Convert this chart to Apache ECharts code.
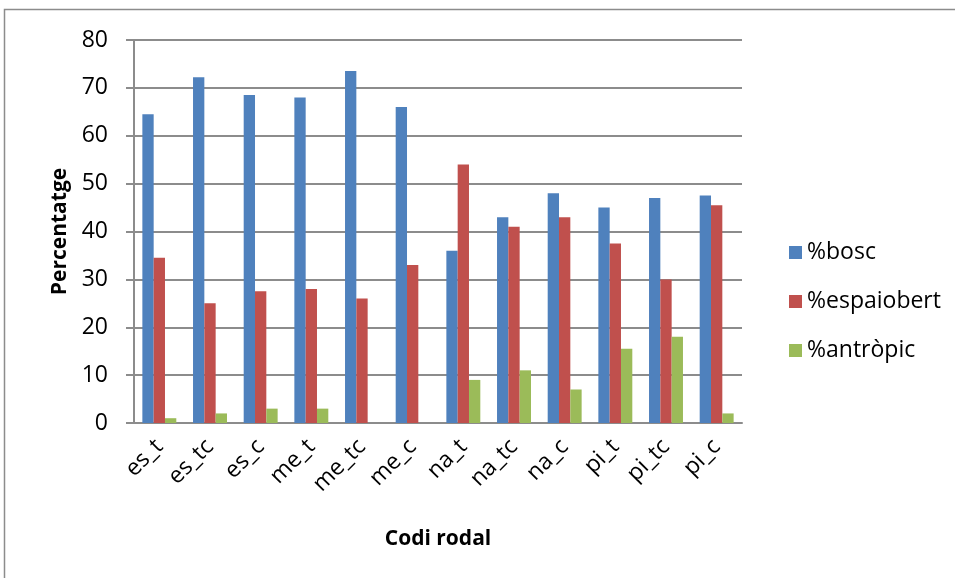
<!DOCTYPE html>
<html>
<head>
<meta charset="utf-8">
<script src="https://cdn.jsdelivr.net/npm/echarts@6/dist/echarts.min.js"></script>
<style>
  html, body { margin: 0; padding: 0; background: #fff; }
  #main { width: 955px; height: 578px; }
</style>
</head>
<body>
<div id="main"></div>
<script>
// categories (codi rodal)
const categories = ['es_t', 'es_tc', 'es_c', 'me_t', 'me_tc', 'me_c', 'na_t', 'na_tc', 'na_c', 'pi_t', 'pi_tc', 'pi_c'];

// series values (%)
const bosc = [64.5, 72.2, 68.5, 68, 73.5, 66, 36, 43, 48, 45, 47, 47.5];
const espaiobert = [34.5, 25, 27.5, 28, 26, 33, 54, 41, 43, 37.5, 30, 45.5];
const antropic = [1, 2, 3, 3, 0, 0, 9, 11, 7, 15.5, 18, 2];

const seriesNames = ['%bosc', '%espaiobert', '%antròpic'];
const colors = ['#4F81BD', '#C0504D', '#9BBB59'];

const chart = echarts.init(document.getElementById('main'));
const font = '"Open Sans", "Liberation Sans", sans-serif';
const gridGray = '#8c8c8c';

const option = {
  animation: false,
  textStyle: { fontFamily: font, color: '#000' },
  color: colors,
  graphic: [{
    type: 'rect',
    shape: { x: 4.5, y: 9.5, width: 1000, height: 1000 },
    style: { fill: null, stroke: '#8c8c8c', lineWidth: 1.5 },
    silent: true
  }],
  grid: { left: 134, right: 213, top: 40, bottom: 155 },
  legend: {
    orient: 'vertical',
    left: 784,
    top: 236,
    itemWidth: 13,
    itemHeight: 13,
    itemGap: 26,
    icon: 'rect',
    textStyle: { fontSize: 23, fontFamily: font, color: '#000' },
    data: seriesNames
  },
  xAxis: {
    type: 'category',
    data: categories,
    name: 'Codi rodal',
    nameLocation: 'middle',
    nameGap: 106,
    nameTextStyle: { fontSize: 21, fontWeight: 'bold', color: '#000' },
    axisLine: { lineStyle: { color: gridGray, width: 2 } },
    axisTick: { length: 8, lineStyle: { color: gridGray, width: 2 } },
    axisLabel: { rotate: 45, fontSize: 23, color: '#000', margin: 20 }
  },
  yAxis: {
    type: 'value',
    min: 0,
    max: 80,
    interval: 10,
    name: 'Percentatge',
    nameLocation: 'middle',
    nameGap: 62,
    nameTextStyle: { fontSize: 21, fontWeight: 'bold', color: '#000' },
    axisLine: { show: true, lineStyle: { color: gridGray, width: 2 } },
    axisTick: { show: true, length: 8, lineStyle: { color: gridGray, width: 2 } },
    axisLabel: { fontSize: 23, color: '#000', margin: 26 },
    splitLine: { lineStyle: { color: gridGray, width: 2 } }
  },
  series: [
    { name: seriesNames[0], type: 'bar', data: bosc, barGap: '0%', barCategoryGap: '33%' },
    { name: seriesNames[1], type: 'bar', data: espaiobert, barGap: '0%', barCategoryGap: '33%' },
    { name: seriesNames[2], type: 'bar', data: antropic, barGap: '0%', barCategoryGap: '33%' }
  ]
};

chart.setOption(option);
</script>
</body>
</html>
